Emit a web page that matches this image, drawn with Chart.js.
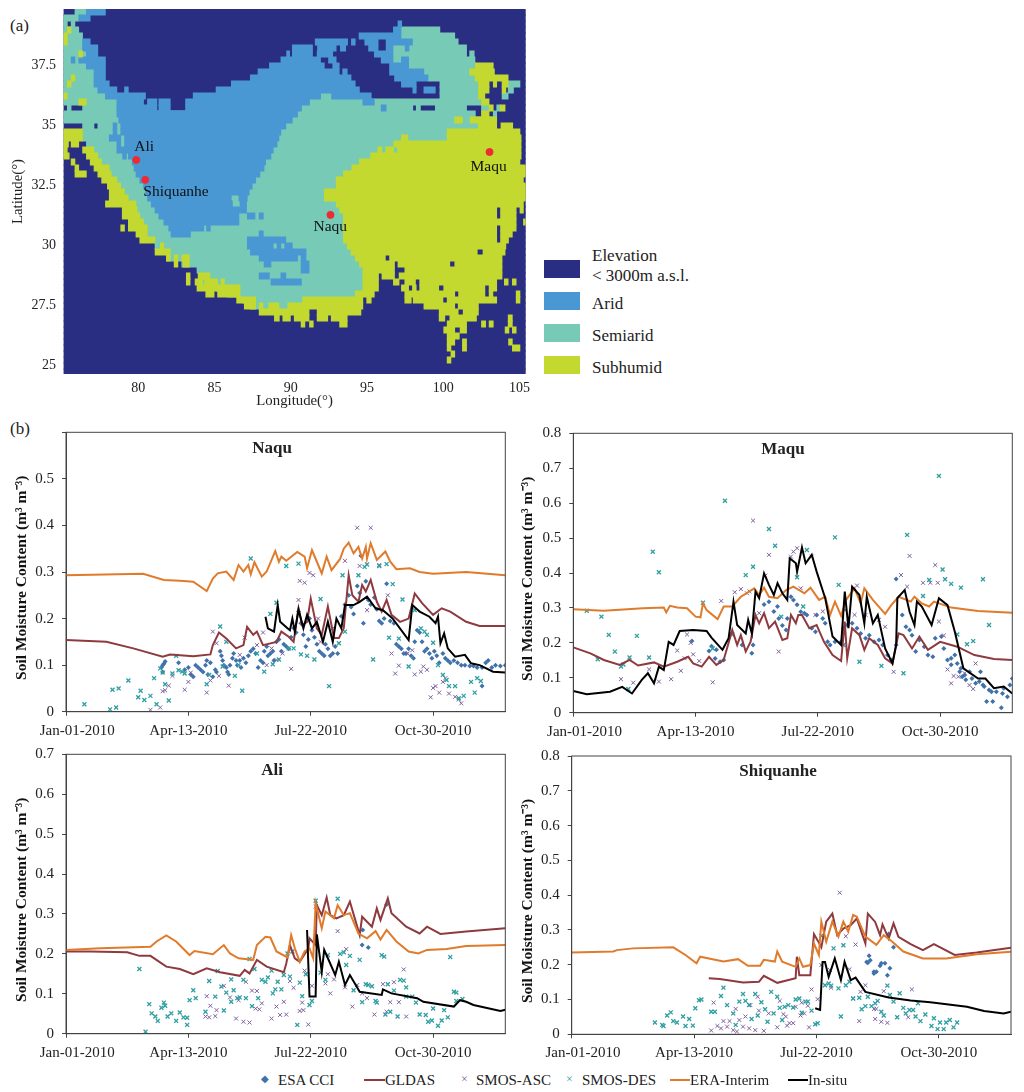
<!DOCTYPE html>
<html>
<head>
<meta charset="utf-8">
<script src="https://cdn.jsdelivr.net/npm/chart.js@4"></script>
<style>
    body { margin: 0; background: #fff; width: 1024px; height: 1092px; position: relative; overflow: hidden;
           font-family: "Liberation Serif", serif; color: #222; }
    canvas { position: absolute; }
    .txt { position: absolute; white-space: nowrap; line-height: 1; }
    .title { font-size: 17px; font-weight: bold; transform: translate(-50%, -50%); }
    .swatch { position: absolute; left: 544px; width: 36px; height: 18px; }
    .lg { font-size: 15px; transform: translateY(-50%); }
    .mapLg { left: 592px; font-size: 17px; }
    .bar { position: absolute; height: 2px; top: 1079px; }
</style>
</head>
<body>
<div class="txt" style="left:10px;top:17px;font-size:17px">(a)</div>
<div class="txt" style="left:10px;top:420px;font-size:17px">(b)</div>

<canvas id="mapa" width="540" height="415" style="left:0;top:0"></canvas>
<canvas id="naqu" width="515" height="320" style="left:0;top:425px"></canvas>
<canvas id="maqu" width="514" height="320" style="left:510px;top:425px"></canvas>
<canvas id="ali" width="515" height="320" style="left:0;top:745px"></canvas>
<canvas id="shiquanhe" width="514" height="320" style="left:510px;top:745px"></canvas>

<div class="txt title" style="left:272px;top:447px">Naqu</div>
<div class="txt title" style="left:783px;top:448px">Maqu</div>
<div class="txt title" style="left:272px;top:769px">Ali</div>
<div class="txt title" style="left:778px;top:770px">Shiquanhe</div>

<!-- legenda do mapa -->
<div class="swatch" style="top:260px;background:#2a2e82"></div>
<div class="swatch" style="top:292px;background:#4a98d3"></div>
<div class="swatch" style="top:324px;background:#76cab6"></div>
<div class="swatch" style="top:356px;background:#c3d930"></div>
<div class="txt mapLg" style="top:247px">Elevation</div>
<div class="txt mapLg" style="top:267px">&lt; 3000m a.s.l.</div>
<div class="txt mapLg" style="top:295px">Arid</div>
<div class="txt mapLg" style="top:327px">Semiarid</div>
<div class="txt mapLg" style="top:359px">Subhumid</div>

<!-- legenda das séries -->
<div class="txt lg" style="left:261px;top:1079px;color:#3f72aa;font-size:10px">◆</div>
<div class="txt lg" style="left:278px;top:1080px">ESA CCI</div>
<div class="bar" style="left:364px;width:21px;background:#8e3a3f"></div>
<div class="txt lg" style="left:385px;top:1080px">GLDAS</div>
<div class="txt lg" style="left:461px;top:1079px;color:#7d5f9e;font-size:12px">×</div>
<div class="txt lg" style="left:476px;top:1080px">SMOS-ASC</div>
<div class="txt lg" style="left:566px;top:1079px;color:#2f9fa3;font-size:12px">×</div>
<div class="txt lg" style="left:582px;top:1080px">SMOS-DES</div>
<div class="bar" style="left:670px;width:20px;background:#e07b2c"></div>
<div class="txt lg" style="left:690px;top:1080px">ERA-Interim</div>
<div class="bar" style="left:788px;width:20px;background:#000"></div>
<div class="txt lg" style="left:808px;top:1080px">In-situ</div>

<script>
// Mapa: grade de 0.25 graus. Cada linha da grade (de cima para baixo) guarda pares coluna inicial, coluna final
const semiaridRuns = [
    [3,6],[0,4],[0,1,2,3],[0,4,88.5,98.7],[0,5,88.5,102.6],[0,5,91.5,103.5],[0,5,86.4,105.7],
    [0,6,86.4,105.7,106.5,107.7],[0,4,86.4,107.9],[0,6,90.5,108],[0,8,94.5,107],[0,8,95.6,108],
    [0,8,98.7,108.8,116.6,119.7],[0,9,98.7,108.8,116.6,118],[0,11,67.4,70.3,98.7,108.8,115,116.6],
    [0,14,64.5,109.6],[1,2,5,14,62.4,91.6,92.5,93.6,97.5,105.7,109.6,111.6,113.6,114.5],[0,108,112.7,113.6],
    [0,113],[5,8,9,110],[5,101],[5,100.6],[6,88],[8,88],[9,81],[10,78],[12,76],[12.5,74],[14,72],[15,72],
    [16,69],[17,69],[19,72],[19,73],[20,74],[21,74],[22,74],[22,74],[24,74],[24,75],[28,76],[27,77],[31,78],
    [35,79],[36,79],[36,79],[40,79],[43,77],[47,63],[49,59]
];
const aridRuns = [
    [6,11],[4,7],[87.7,88.7],[86.5,88.5],[77.5,88.5],
    [5,7,66,74.5,75.5,76.5,79,82.5,84.6,91.5],
    [5,9,60,65.3,66.6,71.5,72.6,74,80,82.5,84.6,86.4,89.6,90.6],
    [6,9,58.5,59.3,60,65.3,66.5,70.6,81.5,86.4],
    [2,3,4,11,57,67.4,69.5,71.5,83.3,86.4,88.6,90.5],
    [6,11,54,68.4,70.6,72.3,85.5,90.5],
    [8,11,51,72.3,73.2,74.4,85.5,94.5],
    [8,11,49,75.4,86.8,95.6],
    [8,12,44,76.5,88.6,92.5],
    [9,14,16,17,40,77.6,91.6,92.5,94.5,97.5],
    [11,21.5,34,67.4,70.3,80.7],
    [14,21,22,24.5,25,28,32,64.5,78.5,81.5],
    [14,24.5,25,28,32,62.4,83.3,84.6],
    [14,61.4],[14.5,60],[13,14,15,58.3],[13,14,15,57],[12,15,16,56.5],[14,15,16,56],[14,55],
    [15.5,16.5,17,54.4],[18,53],[18.5,52.6],[19,51.5],[20,50.4],[21,49.5],[21.5,48.7],
    [22,44,46,48.2],[23,44.3,46.3,48],[24,48],[25,46,48.2,50.2,51.3,52.4],[26.3,46],
    [27.6,36.8,37.5,38.5],[28.2,33.3,51.3,52.4],[48.2,58.3],[48.2,55,56,57,58,60],[49,63.6],
    [51.3,61.4,62.3,63.6],[52.6,54.4,62.3,64.4],[62.3,64.4],[51.3,54,57,58.3],[54.4,62.4]
];
const subhumidRuns = [
    [],[],[],[1,2],[0,1],[0,1],[],[4,5],[],[108,112.7],[106.5,113],[2,3,107.9,116.6],
    [1,2,108.8,111.6,112.7,113.6,115,116.6],[108.8,111.6,115,116],[0,1,108.8,110.5],[4,6,109.6,111.6],
    [111.6,112.7,114.5,115.8],[109.6,111.6],[102.6,104.6,106.6,113.6],[108.8,113.6,114.7,117.8],
    [0,5,100.6,119.7],[0,5,88.6,90.3,100.6,120],[0,1.3,2,4,86.6,120],[0,1,5,8,82.4,83.5,84.5,86.6,87.6,120],
    [0,1.5,6,9,80.5,120],[2,3,7,10,77.6,119.7],[3,4,8,12,75.6,121.6],[3,6,9,12.5,73.4,121.6],
    [10,14,71.5,120.6],[11.5,15,71.5,121.6],[12,16,68.4,121.6],[12,17,68.4,121.6],[11,19,71.5,120.6],
    [15.4,19.3,72.4,113.6,114.6,118.7,119.7,120.6],[15.4,20,73.4,113.6,114.6,118.7],
    [17,21,73.4,118.7,120.6,121.6],[15,16,17,22,73.4,113.6,114.6,118.7],[19,22,73.4,113.6,114.6,117.7],
    [20,24,73.4,113.6,114.6,116.7],[25.4,26.3,74.4,116],[24,28,75.4,108.5,110,115.8],
    [27,28,29,30,31,33,76.5,84.4,85.5,115],[29,30,31.4,33,77.6,86.8,87.7,101.3,102.6,115],
    [78.5,86.8,89.5,115],[32.2,33.2,35.3,38.4,78.5,82.6,83.5,86.8,88,115],
    [32.2,33.2,34.5,36.5,37,40.4,41.3,42.2,78.5,82.6,86.5,88,89.5,92.3,93.4,113.6,115.6,116.6,117.7,118.7],
    [35,46.3,78.5,82.6,88.6,90.5,91.5,92.5,93.4,98.4,99.7,110.5,111.6,113.6],
    [37.3,39.5,40.4,46.3,76.5,81.5,89.5,102.6,103.6,110.5,111.6,112.6,118.7,119.7],
    [45.4,50.4,62.7,78.5,79.5,80.7,89.5,91.2,91.7,99.5,100.6,113.6,118.7,119.7],
    [47.4,50.4,51.3,52.3,53.8,56.5,58.8,78.5,94.5,102.6,103.5,108.8],
    [51.3,64.4,66.5,78,98.5,103.5,104.8,108.8],
    [55.3,56.6,57.5,59.5,60.5,64.4,66.5,69.3,70.2,74.4,98.5,100,101.3,108.3,116.6,117.7],
    [62.3,63.3,64.5,65.5,72.4,74.4,100.6,105.7,109.6,110.7,111.6,112.7,116.6,117.7],
    [99.7,102.6,104,105.7,115.8,116.8,117.7,118.7],[100.6,103.8],[100.6,102.6,104.6,105.7,116.7,117.7],
    [100.6,101.6,104.6,105.7,117.7,119.7],[101.6,102.6],[100.6,101.6]
];
const mapRows = 61;
const siteNames = ['Ali', 'Shiquanhe', 'Naqu', 'Maqu'];
const siteLon = [79.87, 80.46, 92.6, 103.03];
const siteLat = [33.57, 32.74, 31.28, 33.9];

// Séries: [dia, m3/m3]
const xTickLabels = ['Jan-01-2010', 'Apr-13-2010', 'Jul-22-2010', 'Oct-30-2010'];

const naquEra = [[0,.293],[63,.296],[80,.283],[93,.281],[104,.279],[115,.259],[120,.286],[124,.297],[131,.301],[137,.283],[141,.315],[145,.301],[149,.315],[151,.295],[154,.321],[160,.29],[164,.301],[171,.345],[174,.322],[176,.333],[180,.324],[189,.343],[195,.333],[197,.308],[201,.347],[205,.322],[209,.297],[213,.333],[217,.304],[224,.328],[227,.35],[231,.363],[235,.34],[239,.354],[242,.329],[245,.354],[246,.329],[249,.362],[254,.326],[261,.344],[265,.322],[270,.306],[281,.308],[289,.3],[300,.296],[327,.3],[359,.293]];
const naquGldas = [[0,.154],[33,.15],[55,.136],[79,.118],[85,.123],[104,.119],[118,.123],[120,.143],[125,.17],[131,.157],[139,.136],[145,.143],[148,.182],[153,.165],[156,.172],[161,.143],[172,.15],[176,.172],[182,.161],[186,.15],[190,.222],[193,.186],[197,.193],[200,.243],[205,.179],[209,.165],[214,.226],[219,.158],[223,.158],[227,.179],[231,.293],[234,.25],[239,.236],[242,.272],[245,.258],[249,.283],[254,.236],[258,.215],[262,.24],[266,.208],[273,.193],[280,.2],[285,.254],[291,.233],[300,.208],[307,.222],[314,.215],[327,.193],[338,.184],[359,.184]];
const naquInsitu = [[163,.204],[165,.179],[170,.172],[173,.229],[175,.193],[181,.179],[183,.175],[185,.2],[187,.172],[190,.219],[194,.179],[197,.208],[201,.179],[205,.193],[210,.15],[214,.193],[218,.15],[221,.2],[225,.179],[228,.229],[235,.229],[240,.236],[246,.247],[253,.222],[259,.218],[267,.2],[280,.154],[283,.229],[289,.215],[297,.204],[302,.19],[304,.204],[306,.147],[309,.168],[312,.136],[318,.118],[326,.122],[331,.104],[338,.1],[349,.086],[359,.084]];
const naquEsa = [[78,.095],[79,.1],[80,.103],[81,.108],[79,.085],[92,.105],[97,.09],[100,.095],[102,.08],[104,.075],[106,.1],[108,.095],[110,.09],[112,.085],[114,.1],[115,.11],[116,.08],[118,.105],[120,.075],[122,.09],[123,.085],[126,.13],[127,.12],[128,.11],[129,.1],[131,.095],[132,.085],[133,.08],[134,.1],[136,.115],[137,.125],[139,.11],[140,.1],[142,.11],[143,.095],[145,.115],[147,.105],[149,.12],[151,.13],[153,.135],[155,.125],[157,.095],[159,.11],[161,.105],[162,.13],[164,.14],[165,.12],[167,.125],[169,.13],[170,.11],[172,.15],[174,.155],[176,.13],[178,.145],[180,.14],[182,.135],[184,.16],[186,.18],[188,.17],[190,.215],[192,.19],[194,.165],[196,.14],[198,.155],[199,.2],[201,.175],[203,.16],[205,.145],[207,.13],[209,.125],[211,.12],[212,.145],[214,.135],[216,.12],[218,.125],[220,.14],[222,.125],[225,.205],[228,.23],[231,.25],[233,.225],[235,.21],[238,.27],[240,.255],[241,.335],[243,.19],[245,.28],[247,.24],[249,.23],[252,.245],[254,.22],[256,.195],[258,.19],[260,.2],[262,.275],[265,.195],[268,.19],[270,.145],[272,.14],[274,.135],[276,.125],[278,.125],[280,.135],[282,.12],[284,.115],[285,.15],[287,.175],[289,.17],[291,.15],[293,.13],[295,.135],[297,.125],[299,.115],[301,.13],[303,.12],[305,.105],[308,.125],[310,.115],[312,.11],[314,.105],[317,.11],[320,.105],[323,.1],[326,.1],[330,.098],[333,.098],[336,.095],[340,.095],[343,.105],[345,.11],[348,.095],[351,.1],[355,.098],[359,.1],[340,.055]];
const naquAsc = [[69,.004],[77,.009],[79,.044],[81,.046],[84,.056],[87,.077],[97,.047],[100,.064],[102,.084],[115,.041],[118,.067],[120,.172],[123,.147],[125,.077],[133,.056],[142,.122],[146,.159],[156,.143],[161,.17],[164,.1],[168,.136],[172,.111],[177,.125],[184,.092],[190,.24],[191,.281],[195,.277],[199,.298],[202,.293],[206,.2],[208,.15],[218,.179],[228,.324],[238,.395],[240,.313],[246,.218],[249,.395],[256,.315],[263,.25],[266,.125],[269,.082],[272,.099],[279,.125],[283,.132],[285,.08],[290,.086],[292,.097],[295,.09],[298,.031],[300,.051],[302,.055],[305,.041],[308,.064],[310,.072],[313,.039],[318,.032],[321,.026],[323,.018]];
const naquDes = [[15,.016],[36,.005],[38,.047],[41,.009],[43,.05],[51,.067],[59,.031],[61,.045],[64,.025],[69,.034],[72,.072],[74,.016],[77,.093],[79,.084],[81,.059],[84,.024],[87,.082],[90,.12],[92,.089],[95,.086],[97,.082],[115,.059],[117,.079],[126,.183],[128,.097],[131,.15],[138,.077],[141,.1],[144,.045],[151,.329],[156,.125],[162,.086],[167,.21],[169,.102],[172,.234],[174,.112],[180,.313],[182,.136],[186,.136],[190,.318],[192,.123],[197,.12],[203,.112],[208,.242],[215,.055],[223,.147],[226,.293],[228,.172],[239,.293],[244,.311],[246,.316],[251,.112],[256,.313],[262,.317],[264,.159],[267,.274],[272,.157],[275,.241],[280,.097],[285,.218],[290,.179],[293,.172],[295,.165],[300,.148],[304,.1],[308,.079],[311,.068],[313,.055],[318,.055],[321,.029],[325,.034],[331,.064],[334,.041],[336,.072],[339,.066]];

const maquEra = [[0,.296],[25,.292],[57,.299],[74,.301],[76,.287],[79,.306],[85,.301],[93,.299],[100,.275],[104,.273],[106,.313],[109,.294],[118,.268],[123,.304],[130,.304],[137,.332],[148,.356],[152,.337],[156,.358],[160,.332],[167,.328],[174,.351],[180,.361],[189,.342],[194,.358],[201,.323],[206,.332],[210,.28],[214,.318],[219,.277],[223,.323],[230,.356],[235,.313],[238,.356],[245,.323],[255,.283],[260,.308],[266,.332],[276,.318],[279,.332],[285,.313],[291,.304],[295,.318],[309,.301],[331,.291],[359,.286]];
const maquGldas = [[0,.187],[14,.17],[25,.151],[38,.137],[46,.151],[53,.135],[66,.144],[74,.132],[85,.146],[94,.16],[98,.141],[105,.132],[111,.16],[117,.137],[123,.151],[130,.237],[134,.194],[137,.222],[141,.175],[145,.203],[149,.28],[152,.256],[156,.285],[160,.242],[165,.261],[171,.208],[175,.213],[178,.28],[182,.256],[184,.28],[187,.28],[193,.242],[199,.251],[205,.203],[212,.165],[219,.148],[222,.261],[224,.156],[228,.242],[234,.222],[238,.18],[242,.213],[249,.194],[255,.156],[261,.141],[266,.227],[270,.222],[277,.184],[283,.218],[290,.18],[300,.203],[314,.189],[328,.165],[344,.154],[359,.151]];
const maquInsitu = [[0,.062],[11,.053],[30,.06],[40,.074],[48,.055],[56,.094],[61,.113],[66,.084],[70,.132],[74,.122],[78,.203],[82,.194],[87,.234],[98,.237],[109,.234],[113,.215],[122,.18],[127,.213],[131,.318],[134,.251],[141,.227],[143,.266],[146,.227],[149,.347],[152,.328],[156,.399],[160,.366],[164,.337],[167,.371],[171,.342],[175,.323],[177,.442],[182,.428],[183,.404],[187,.473],[190,.428],[195,.452],[199,.404],[206,.328],[212,.218],[219,.194],[222,.347],[225,.242],[228,.361],[234,.337],[238,.256],[240,.332],[245,.256],[249,.28],[255,.184],[261,.141],[264,.194],[265,.328],[271,.351],[275,.289],[279,.251],[281,.318],[285,.304],[293,.251],[299,.328],[306,.308],[312,.232],[319,.127],[331,.098],[337,.098],[344,.07],[352,.075],[359,.055]];
const maquEsa = [[97,.205],[111,.177],[113,.19],[116,.155],[117,.18],[120,.146],[123,.151],[138,.194],[146,.17],[147,.194],[156,.31],[160,.318],[164,.29],[167,.304],[168,.27],[171,.25],[174,.237],[175,.27],[178,.332],[180,.323],[183,.309],[186,.289],[189,.285],[191,.28],[195,.242],[198,.232],[199,.28],[204,.27],[206,.256],[208,.203],[210,.194],[214,.203],[219,.203],[221,.242],[224,.251],[228,.256],[232,.242],[235,.227],[239,.213],[242,.222],[246,.203],[250,.208],[253,.194],[257,.165],[260,.151],[264,.194],[264,.383],[269,.28],[272,.246],[275,.237],[277,.222],[280,.175],[283,.208],[287,.189],[290,.165],[294,.16],[296,.213],[301,.218],[303,.184],[306,.151],[309,.137],[309,.156],[312,.165],[314,.141],[316,.117],[317,.127],[318,.103],[320,.108],[321,.094],[324,.117],[326,.098],[329,.084],[332,.089],[333,.117],[335,.079],[336,.075],[338,.032],[340,.065],[342,.06],[343,.032],[346,.06],[350,.014],[351,.055],[352,.07],[355,.046],[357,.079],[359,.098]];
const maquAsc = [[39,.096],[49,.086],[62,.124],[70,.089],[80,.096],[85,.178],[88,.12],[91,.156],[93,.224],[96,.2],[98,.167],[103,.148],[114,.087],[121,.32],[132,.345],[137,.354],[142,.342],[144,.347],[147,.55],[152,.285],[157,.392],[160,.452],[168,.175],[178,.447],[180,.461],[183,.471],[186,.356],[195,.447],[198,.28],[204,.29],[222,.294],[230,.28],[232,.364],[239,.28],[250,.266],[255,.246],[262,.117],[268,.394],[273,.361],[275,.449],[286,.372],[292,.372],[296,.423],[298,.372],[299,.261],[303,.221],[306,.124],[309,.084],[311,.105],[315,.103],[320,.113],[324,.079],[327,.068],[329,.141]];
const maquDes = [[11,.292],[20,.153],[23,.275],[29,.223],[34,.175],[39,.132],[41,.138],[45,.068],[46,.158],[52,.22],[62,.158],[65,.461],[70,.402],[106,.315],[114,.184],[124,.607],[130,.224],[141,.394],[147,.418],[160,.526],[165,.478],[170,.275],[183,.388],[188,.304],[191,.466],[214,.502],[217,.366],[221,.194],[234,.146],[252,.134],[270,.113],[273,.509],[286,.334],[291,.38],[299,.678],[302,.41],[304,.382],[309,.369],[314,.224],[317,.358],[322,.196],[327,.205],[335,.382],[340,.251]];

const aliEra = [[0,.21],[28,.214],[69,.218],[74,.231],[82,.246],[90,.231],[101,.197],[105,.207],[120,.199],[129,.222],[134,.201],[141,.189],[153,.185],[156,.222],[163,.243],[167,.241],[172,.206],[181,.191],[184,.247],[187,.214],[191,.18],[195,.206],[199,.214],[202,.189],[204,.327],[209,.264],[212,.306],[219,.289],[222,.322],[227,.297],[232,.302],[239,.251],[246,.239],[253,.257],[257,.236],[262,.26],[270,.231],[280,.206],[288,.201],[295,.21],[311,.212],[327,.22],[359,.222]];
const aliGldas = [[0,.206],[20,.206],[50,.204],[60,.195],[69,.195],[82,.168],[93,.162],[104,.149],[115,.164],[126,.154],[142,.145],[146,.16],[150,.151],[156,.185],[164,.168],[178,.154],[180,.176],[183,.222],[187,.189],[191,.18],[198,.214],[199,.239],[204,.222],[205,.322],[209,.297],[213,.341],[216,.297],[221,.289],[227,.297],[232,.331],[236,.289],[240,.247],[242,.293],[250,.268],[254,.314],[257,.285],[263,.339],[266,.302],[278,.268],[289,.251],[295,.268],[306,.25],[327,.256],[359,.264]];
const aliInsitu = [[197,.26],[199,.093],[204,.093],[205,.249],[209,.155],[211,.21],[220,.147],[223,.18],[228,.122],[232,.147],[240,.105],[258,.097],[259,.111],[266,.101],[287,.089],[292,.08],[317,.068],[322,.084],[327,.08],[333,.072],[355,.057],[359,.06]];
const aliEsa = [[242,.222],[242.5,.26],[247,.216],[262,.324]];
const aliAsc = [[114,.043],[115,.094],[117,.041],[118,.07],[122,.044],[123,.059],[129,.12],[134,.091],[139,.038],[141,.084],[145,.03],[147,.13],[150,.028],[152,.108],[155,.063],[156,.107],[158,.061],[160,.076],[168,.038],[172,.068],[175,.047],[178,.08],[180,.048],[183,.132],[186,.115],[191,.057],[193,.078],[194,.059],[195,.158],[198,.023],[201,.12],[204,.319],[212,.126],[214,.149],[216,.101],[219,.136],[222,.257],[228,.116],[229,.212],[234,.068],[238,.122],[242,.101],[246,.089],[252,.048],[259,.124],[262,.055],[265,.079],[268,.129],[272,.079],[276,.161],[278,.043]];
const aliDes = [[60,.162],[65,.005],[68,.074],[70,.051],[73,.043],[75,.032],[78,.065],[80,.078],[81,.07],[83,.043],[86,.051],[90,.032],[93,.053],[96,.041],[99,.022],[99,.04],[101,.084],[104,.109],[106,.089],[114,.055],[117,.132],[122,.093],[124,.157],[127,.118],[129,.058],[131,.103],[135,.136],[135,.08],[137,.109],[140,.089],[142,.091],[145,.135],[147,.089],[150,.187],[152,.069],[154,.162],[157,.089],[160,.135],[163,.13],[165,.141],[168,.158],[169,.101],[171,.111],[173,.13],[176,.111],[178,.147],[181,.201],[183,.143],[185,.206],[189,.022],[191,.128],[193,.094],[196,.149],[199,.072],[201,.082],[204,.333],[208,.153],[212,.135],[214,.197],[222,.338],[224,.2],[227,.204],[229,.172],[232,.195],[235,.109],[240,.185],[242,.079],[245,.124],[247,.122],[250,.119],[253,.082],[254,.078],[258,.197],[260,.193],[261,.048],[263,.124],[265,.055],[268,.108],[271,.043],[273,.135],[276,.133],[278,.116],[278,.093],[283,.093],[286,.078],[289,.048],[294,.047],[296,.03],[299,.033],[300,.063],[304,.02],[307,.033],[309,.059],[312,.041],[314,.192],[317,.105],[319,.103],[319,.082],[324,.087]];

const shiqEra = [[0,.235],[34,.238],[37,.242],[50,.247],[83,.25],[93,.228],[102,.204],[105,.223],[124,.209],[136,.216],[144,.197],[154,.197],[157,.214],[166,.209],[168,.238],[172,.209],[183,.194],[186,.218],[189,.194],[195,.199],[198,.261],[202,.228],[204,.324],[208,.266],[213,.324],[218,.281],[222,.324],[226,.295],[230,.343],[233,.338],[240,.281],[249,.257],[255,.285],[262,.266],[271,.238],[287,.218],[306,.218],[331,.23],[359,.237]];
const shiqGldas = [[112,.161],[121,.159],[140,.149],[153,.151],[157,.168],[168,.148],[183,.161],[184,.223],[186,.17],[195,.17],[198,.288],[201,.27],[204,.25],[208,.324],[213,.347],[217,.285],[222,.304],[228,.314],[233,.333],[240,.261],[242,.347],[248,.323],[252,.285],[254,.316],[259,.275],[263,.319],[267,.28],[277,.259],[287,.242],[296,.259],[313,.228],[331,.235],[359,.249]];
const shiqInsitu = [[199,.075],[203,.07],[205,.208],[207,.208],[210,.165],[215,.218],[220,.156],[223,.208],[228,.156],[232,.163],[240,.122],[259,.106],[277,.097],[293,.092],[323,.079],[337,.067],[353,.06],[359,.065]];
const shiqEsa = [[241,.208],[242,.206],[243,.226],[244,.213],[247,.175],[247,.18],[249,.18],[252,.197],[253,.204],[256,.204],[258,.17],[259,.288],[260,.19],[263,.25]];
const shiqAsc = [[114,.011],[116,.091],[119,.024],[122,.017],[124,.038],[127,.022],[129,.038],[132,.012],[134,.073],[135,.008],[137,.041],[140,.022],[142,.051],[145,.017],[146,.084],[150,.012],[152,.108],[153,.068],[157,.01],[161,.06],[168,.02],[170,.096],[173,.058],[175,.051],[176,.025],[178,.032],[181,.032],[183,.079],[187,.054],[188,.091],[190,.06],[193,.082],[194,.02],[196,.129],[201,.101],[204,.199],[211,.185],[212,.134],[219,.407],[224,.282],[227,.187],[230,.103],[232,.258],[235,.038],[236,.122],[240,.141],[247,.073],[248,.044],[249,.073],[253,.036],[255,.124],[258,.033],[275,.049],[278,.129]];
const shiqDes = [[68,.034],[74,.027],[75,.024],[78,.054],[81,.063],[83,.038],[86,.034],[91,.051],[93,.024],[96,.044],[99,.025],[101,.075],[104,.098],[106,.1],[114,.065],[117,.065],[122,.11],[124,.134],[127,.084],[132,.06],[134,.027],[137,.094],[140,.116],[142,.096],[145,.084],[147,.044],[150,.116],[152,.054],[155,.092],[158,.072],[160,.036],[163,.122],[165,.06],[168,.108],[170,.076],[172,.041],[174,.079],[177,.084],[181,.077],[183,.1],[186,.103],[188,.062],[191,.094],[193,.094],[196,.068],[199,.029],[201,.032],[204,.283],[207,.141],[210,.146],[212,.14],[214,.247],[218,.132],[220,.051],[222,.256],[224,.141],[227,.151],[230,.103],[235,.105],[237,.072],[240,.081],[242,.108],[245,.081],[248,.089],[250,.096],[253,.065],[255,.054],[258,.14],[260,.113],[263,.094],[266,.049],[268,.118],[271,.076],[273,.06],[276,.07],[279,.07],[281,.051],[283,.089],[285,.038],[289,.057],[294,.024],[296,.046],[299,.015],[301,.034],[304,.015],[306,.034],[309,.041],[312,.02],[315,.034]];

Chart.defaults.font.family = '"Liberation Serif", serif';
Chart.defaults.color = '#222';

const toXY = pares => pares.map(p => ({ x: p[0], y: p[1] }));

// ---------- Mapa (a) ----------
const colToLon = c => 75.1 + c * 0.25;
const rowToLat = r => 39.86 - (r + 0.5) * 0.25;
const mapCells = [];
const mapCellColors = [];

function addRuns(runs, color) {
    runs.forEach((row, r) => {
        for (let i = 0; i < row.length; i += 2) {
            mapCells.push({ x: [colToLon(row[i]), colToLon(row[i + 1])], y: rowToLat(r) });
            mapCellColors.push(color);
        }
    });
}

// Fundo azul escuro primeiro, depois as classes por cima
addRuns(Array.from({ length: mapRows }, () => [0, 122]), '#2a2e82');
addRuns(semiaridRuns, '#76cab6');
addRuns(aridRuns, '#4a98d3');
addRuns(subhumidRuns, '#c3d930');

const siteLabels = {
    id: 'siteLabels',
    afterDatasetsDraw(chart) {
        const ctx = chart.ctx;
        const offsets = [[-2, -13], [-2, 12], [-17, 12], [-19, 15]];
        ctx.save();
        ctx.font = '15.5px "Liberation Serif"';
        ctx.fillStyle = '#111';
        ctx.textBaseline = 'middle';
        chart.getDatasetMeta(0).data.forEach((pt, i) => {
            ctx.fillText(siteNames[i], pt.x + offsets[i][0], pt.y + offsets[i][1]);
        });
        ctx.restore();
    }
};

new Chart(document.getElementById('mapa'), {
    type: 'bar',
    data: {
        datasets: [
            {
                type: 'scatter',
                label: 'Sites',
                data: siteLon.map((lon, i) => ({ x: lon, y: siteLat[i] })),
                pointRadius: 3.5,
                backgroundColor: '#ee2a35',
                borderColor: '#ee2a35',
                order: 0
            },
            {
                label: 'Climate zones',
                indexAxis: 'y',
                data: mapCells,
                backgroundColor: mapCellColors,
                barThickness: 6.3,
                order: 1
            }
        ]
    },
    options: {
        responsive: false,
        animation: false,
        layout: { padding: { top: 9, right: 14.3 } },
        plugins: { legend: { display: false }, tooltip: { enabled: false } },
        scales: {
            x: {
                type: 'linear', min: 75.1, max: 105.4, offset: false,
                grid: { display: false, drawTicks: false }, border: { display: false },
                ticks: {
                    stepSize: 5, includeBounds: false, padding: 6, maxRotation: 0,
                    font: { size: 14 }, callback: v => (v % 5 === 0 ? String(v) : '')
                },
                title: { display: true, text: 'Longitude(°)', font: { size: 14.8 }, padding: { top: 0, bottom: 4.6 } },
                afterFit: s => { s.height = 41; s.paddingLeft = 0; s.paddingRight = 0; }
            },
            y: {
                type: 'linear', min: 24.65, max: 39.86, offset: false, beginAtZero: false,
                grid: { display: false, drawTicks: false }, border: { display: false },
                ticks: {
                    stepSize: 2.5, includeBounds: false, padding: 7.5,
                    font: { size: 14 }, callback: v => (v % 2.5 === 0 ? String(v) : '')
                },
                title: { display: true, text: 'Latitude(°)', font: { size: 14.8 }, padding: { top: 9.5, bottom: 0 } },
                afterFit: s => { s.width = 63.5; s.paddingTop = 0; s.paddingBottom = 0; }
            }
        }
    },
    plugins: [siteLabels]
});

// ---------- Painéis (b) ----------
const plotBorder = {
    id: 'plotBorder',
    afterDraw(chart) {
        const a = chart.chartArea;
        const ctx = chart.ctx;
        ctx.save();
        ctx.strokeStyle = '#444';
        ctx.lineWidth = 1;
        ctx.strokeRect(a.left, a.top, a.right - a.left, a.bottom - a.top);
        ctx.restore();
    }
};

function linha(label, pares, cor, ordem) {
    return { label, data: toXY(pares), showLine: true, borderColor: cor, borderWidth: 2, pointRadius: 0, tension: 0, order: ordem };
}

function pontos(label, pares, cor, estilo, raio, largura, ordem) {
    return {
        label, data: toXY(pares), showLine: false, pointStyle: estilo, pointRadius: raio,
        borderColor: cor, backgroundColor: cor, borderWidth: largura, order: ordem
    };
}

function painel(id, p) {
    new Chart(document.getElementById(id), {
        type: 'scatter',
        data: {
            datasets: [
                linha('In-situ', p.insitu, '#000', 0),
                linha('ERA-Interim', p.era, '#e07b2c', 1),
                linha('GLDAS', p.gldas, '#8e3a3f', 2),
                pontos('SMOS-DES', p.des, '#2f9fa3', 'crossRot', 2.8, 1.3, 3),
                pontos('SMOS-ASC', p.asc, '#7d5f9e', 'crossRot', 2.8, 1, 4),
                pontos('ESA CCI', p.esa, '#3f72aa', 'rectRot', 2.5, 0, 5)
            ]
        },
        options: {
            responsive: false,
            animation: false,
            layout: { padding: { top: p.top, right: p.right } },
            plugins: { legend: { display: false }, tooltip: { enabled: false } },
            scales: {
                x: {
                    type: 'linear', min: 0, max: 359,
                    grid: { drawOnChartArea: false, tickLength: 4, color: '#444' },
                    border: { color: '#444' },
                    afterBuildTicks: s => { s.ticks = [0, 100, 200, 300].map(v => ({ value: v })); },
                    ticks: {
                        autoSkip: false, maxRotation: 0, padding: 6, font: { size: 15 },
                        // o primeiro rótulo fica deslocado para a direita na figura original
                        callback: v => (v === 0 ? '      ' : '') + xTickLabels[v / 100]
                    },
                    afterFit: s => { s.height = p.bottom; s.paddingLeft = 0; s.paddingRight = 0; }
                },
                y: {
                    type: 'linear', min: 0, max: p.yMax,
                    grid: { drawOnChartArea: false, tickLength: 4, color: '#444' },
                    border: { color: '#444' },
                    ticks: {
                        stepSize: 0.1, padding: 8, font: { size: 15 },
                        callback: v => {
                            if (p.hideTop && Math.abs(v - p.yMax) < 0.001) return '';
                            return v === 0 ? '0' : v.toFixed(1);
                        }
                    },
                    title: {
                        display: true, text: 'Soil Moisture Content (m³ m⁻³)   ',
                        font: { size: 15.5, weight: 'bold' }, color: '#111', padding: { top: p.titleGap, bottom: 0 }
                    },
                    afterFit: s => { s.width = p.left; s.paddingTop = 0; s.paddingBottom = 0; }
                }
            }
        },
        plugins: [plotBorder]
    });
}

painel('naqu', { left: 66, top: 7.3, right: 9.7, bottom: 33.3, titleGap: 13, yMax: 0.6, hideTop: true,
    era: naquEra, gldas: naquGldas, insitu: naquInsitu, esa: naquEsa, asc: naquAsc, des: naquDes });
painel('maqu', { left: 63.3, top: 8.3, right: 11.7, bottom: 32.3, titleGap: 9, yMax: 0.8,
    era: maquEra, gldas: maquGldas, insitu: maquInsitu, esa: maquEsa, asc: maquAsc, des: maquDes });
painel('ali', { left: 66, top: 9.3, right: 9.7, bottom: 31.3, titleGap: 13, yMax: 0.7,
    era: aliEra, gldas: aliGldas, insitu: aliInsitu, esa: aliEsa, asc: aliAsc, des: aliDes });
painel('shiquanhe', { left: 61.7, top: 11, right: 13, bottom: 30.7, titleGap: 9, yMax: 0.8,
    era: shiqEra, gldas: shiqGldas, insitu: shiqInsitu, esa: shiqEsa, asc: shiqAsc, des: shiqDes });
</script>
</body>
</html>
